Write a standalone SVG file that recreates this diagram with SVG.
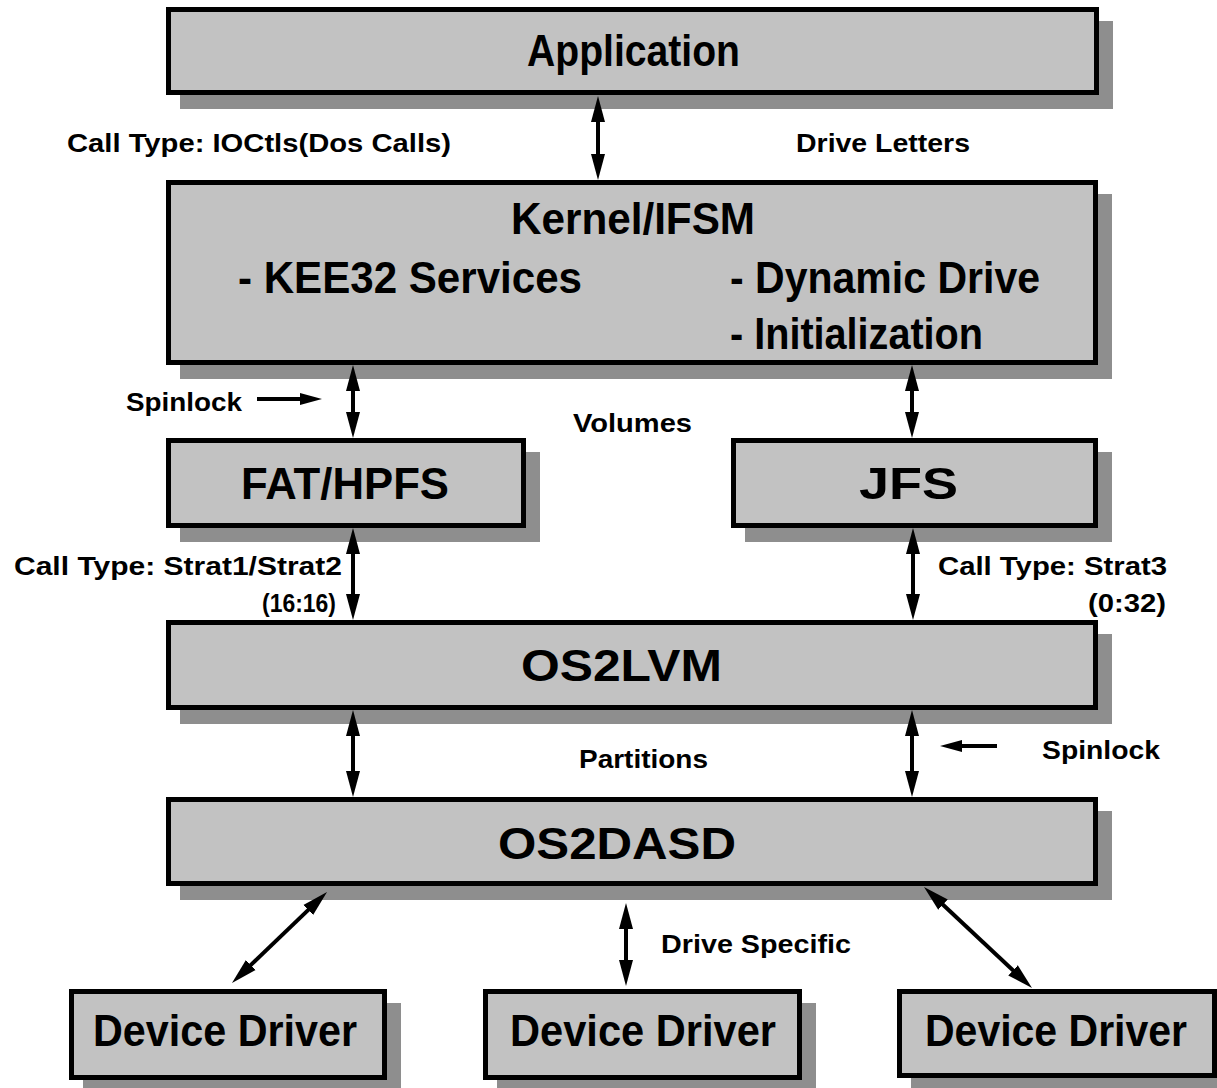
<svg xmlns="http://www.w3.org/2000/svg" width="1217" height="1088" viewBox="0 0 1217 1088">
<defs>
<marker id="ah" markerUnits="userSpaceOnUse" markerWidth="28" markerHeight="16" refX="16" refY="8" orient="auto-start-reverse" viewBox="0 0 28 16">
<path d="M0,1 L26,8 L0,15 z" fill="#000"/>
</marker>
<marker id="ah2" markerUnits="userSpaceOnUse" markerWidth="24" markerHeight="16" refX="14" refY="8" orient="auto" viewBox="0 0 24 16">
<path d="M0,2 L22,8 L0,14 z" fill="#000"/>
</marker>
</defs>
<style>
.box{fill:#c2c2c2;stroke:#000;stroke-width:5}
.sh{fill:#8e8e8e}
.big{font-family:"Liberation Sans",Arial,sans-serif;font-weight:bold;font-size:44px;fill:#000}
.lbl{font-family:"Liberation Sans",Arial,sans-serif;font-weight:bold;font-size:26px;fill:#000}
.con{stroke:#000;stroke-width:4;fill:none;marker-start:url(#ah);marker-end:url(#ah)}
.one{stroke:#000;stroke-width:4;fill:none;marker-end:url(#ah2)}
</style>
<rect width="1217" height="1088" fill="#fff"/>
<g id="application">
<rect class="sh" x="180" y="21" width="933" height="88"/>
<rect class="box" x="168.5" y="9.5" width="928" height="83"/>
<text class="big" x="527" y="66" textLength="213" lengthAdjust="spacingAndGlyphs">Application</text>
</g>
<g id="kernel">
<rect class="sh" x="180" y="194" width="932" height="185"/>
<rect class="box" x="168.5" y="182.5" width="927" height="180"/>
<text class="big" x="511" y="234" textLength="244" lengthAdjust="spacingAndGlyphs">Kernel/IFSM</text>
<text class="big" x="238" y="293" textLength="344" lengthAdjust="spacingAndGlyphs">- KEE32 Services</text>
<text class="big" x="730" y="293" textLength="310" lengthAdjust="spacingAndGlyphs">- Dynamic Drive</text>
<text class="big" x="730" y="349" textLength="253" lengthAdjust="spacingAndGlyphs">- Initialization</text>
</g>
<g id="fathpfs">
<rect class="sh" x="180" y="452" width="360" height="90"/>
<rect class="box" x="168.5" y="440.5" width="355" height="85"/>
<text class="big" x="241" y="499" textLength="208" lengthAdjust="spacingAndGlyphs">FAT/HPFS</text>
</g>
<g id="jfs">
<rect class="sh" x="745" y="452" width="367" height="90"/>
<rect class="box" x="733.5" y="440.5" width="362" height="85"/>
<text class="big" x="859" y="499" textLength="99" lengthAdjust="spacingAndGlyphs">JFS</text>
</g>
<g id="os2lvm">
<rect class="sh" x="180" y="634" width="932" height="90"/>
<rect class="box" x="168.5" y="622.5" width="927" height="85"/>
<text class="big" x="521" y="681" textLength="201" lengthAdjust="spacingAndGlyphs">OS2LVM</text>
</g>
<g id="os2dasd">
<rect class="sh" x="180" y="811" width="932" height="89"/>
<rect class="box" x="168.5" y="799.5" width="927" height="84"/>
<text class="big" x="498" y="859" textLength="238" lengthAdjust="spacingAndGlyphs">OS2DASD</text>
</g>
<g id="dd1">
<rect class="sh" x="83" y="1003" width="318" height="91"/>
<rect class="box" x="71.5" y="991.5" width="313" height="86"/>
<text class="big" x="93" y="1046" textLength="264" lengthAdjust="spacingAndGlyphs">Device Driver</text>
</g>
<g id="dd2">
<rect class="sh" x="497" y="1003" width="319" height="91"/>
<rect class="box" x="485.5" y="991.5" width="314" height="86"/>
<text class="big" x="510" y="1046" textLength="266" lengthAdjust="spacingAndGlyphs">Device Driver</text>
</g>
<g id="dd3">
<rect class="sh" x="911" y="1003" width="320" height="91"/>
<rect class="box" x="899.5" y="991.5" width="315" height="84"/>
<text class="big" x="925" y="1046" textLength="262" lengthAdjust="spacingAndGlyphs">Device Driver</text>
</g>
<g id="connectors">
<line class="con" x1="598" y1="106" x2="598" y2="170"/>
<line class="con" x1="353" y1="375" x2="353" y2="428"/>
<line class="con" x1="912" y1="375" x2="912" y2="428"/>
<line class="con" x1="353" y1="538" x2="353" y2="610"/>
<line class="con" x1="913" y1="538" x2="913" y2="610"/>
<line class="con" x1="353" y1="720" x2="353" y2="787"/>
<line class="con" x1="912" y1="720" x2="912" y2="787"/>
<line class="con" x1="319.8" y1="898.9" x2="239.2" y2="976.1"/>
<line class="con" x1="626" y1="913" x2="626" y2="976"/>
<line class="con" x1="931.3" y1="893.8" x2="1024.7" y2="981.2"/>
<line class="one" x1="257" y1="399" x2="314" y2="399"/>
<line class="one" x1="997" y1="746" x2="948" y2="746"/>
</g>
<g id="labels">
<text class="lbl" x="67" y="152" textLength="384" lengthAdjust="spacingAndGlyphs">Call Type: IOCtls(Dos Calls)</text>
<text class="lbl" x="796" y="152" textLength="174" lengthAdjust="spacingAndGlyphs">Drive Letters</text>
<text class="lbl" x="126" y="411" textLength="116" lengthAdjust="spacingAndGlyphs">Spinlock</text>
<text class="lbl" x="573" y="432" textLength="119" lengthAdjust="spacingAndGlyphs">Volumes</text>
<text class="lbl" x="14" y="575" textLength="328" lengthAdjust="spacingAndGlyphs">Call Type: Strat1/Strat2</text>
<text class="lbl" x="262" y="612" textLength="74" lengthAdjust="spacingAndGlyphs">(16:16)</text>
<text class="lbl" x="938" y="575" textLength="229" lengthAdjust="spacingAndGlyphs">Call Type: Strat3</text>
<text class="lbl" x="1088" y="612" textLength="78" lengthAdjust="spacingAndGlyphs">(0:32)</text>
<text class="lbl" x="579" y="768" textLength="129" lengthAdjust="spacingAndGlyphs">Partitions</text>
<text class="lbl" x="1042" y="759" textLength="118" lengthAdjust="spacingAndGlyphs">Spinlock</text>
<text class="lbl" x="661" y="953" textLength="190" lengthAdjust="spacingAndGlyphs">Drive Specific</text>
</g>
</svg>
